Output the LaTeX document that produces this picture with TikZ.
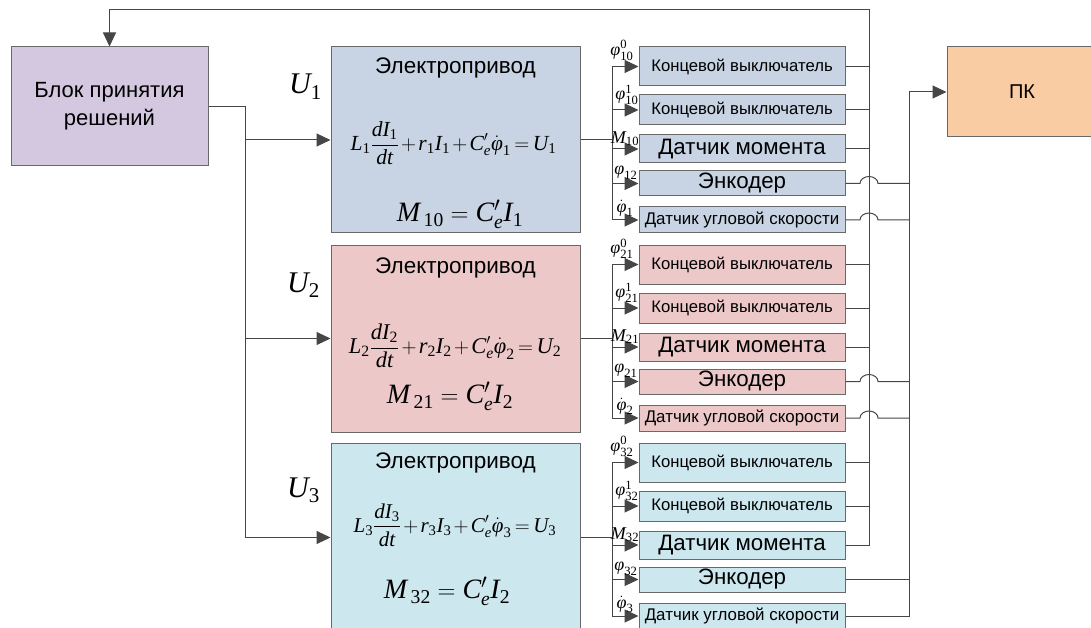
\documentclass[tikz,border=0pt]{standalone}
\usepackage{fontspec}
\usepackage{amsmath}
\setmainfont{Liberation Sans}
\newfontfamily\tnr{Liberation Serif}
\usetikzlibrary{arrows.meta}
\definecolor{blkc}{RGB}{212,200,224}
\definecolor{pkc}{RGB}{250,204,164}
\definecolor{bluec}{RGB}{200,212,228}
\definecolor{pinkc}{RGB}{236,200,201}
\definecolor{cyanc}{RGB}{205,231,238}
\definecolor{bordc}{RGB}{105,105,105}
\definecolor{linec}{RGB}{70,70,70}
\newcommand\tvi[1]{\text{\tnr\itshape #1}}
\newcommand\tvn[1]{\text{\tnr\upshape #1}}
\newcommand\fsz[1]{\fontsize{#1}{#1}\selectfont}
\newcommand\eqdrive[1]{$\medmuskip=2mu\thickmuskip=3mu\tvi{L}_{\tvn{#1}}\dfrac{\tvi{dI}_{\tvn{#1}}}{\tvi{dt}}+\tvi{r}_{\tvn{#1}}\tvi{I}_{\tvn{#1}}+\tvi{C}'_{\tvi{e}}\dot{\tvi{φ}}_{\tvn{#1}}=\tvi{U}_{\tvn{#1}}$}
\newcommand\eqmom[2]{$\tvi{M}_{\,\tvn{#1}}=\tvi{C}'_{\tvi{e}}\tvi{I}_{\tvn{#2}}$}
\newcommand\sgroup[8]{%
  \node[box,fill=#3,minimum width=206pt,minimum height=39pt,font=\fsz{16.7}] (s#11) at (742,{#2+19.5}) {Концевой выключатель};
  \node[box,fill=#3,minimum width=206pt,minimum height=30pt,font=\fsz{16.7}] (s#12) at (742,{#2+63}) {Концевой выключатель};
  \node[box,fill=#3,minimum width=206pt,minimum height=28pt,font=\fsz{22.3}] (s#13) at (742,{#2+102}) {Датчик момента};
  \node[box,fill=#3,minimum width=206pt,minimum height=25pt,font=\fsz{22.3}] (s#14) at (742,{#2+136.5}) {Энкодер};
  \node[box,fill=#3,minimum width=206pt,minimum height=26pt,font=\fsz{16.9}] (s#15) at (742,{#2+173}) {Датчик угловой скорости};
  \coordinate (b#1) at (612,{#2+19.5});
  \draw[conn] (b#1) -- (b#1 |- s#15.west);
  \draw[conn] (d#1.east) -- (b#1 |- d#1.east);
  \foreach \r in {1,...,5} {\draw[arr] (b#1 |- s#1\r.west) -- (s#1\r.west);}
  \node[lab] (l#11) at (622,{#2+19.5-6}) {#4};
  \node[lab] (l#12) at (627,{#2+63-5}) {#5};
  \node[lab] (l#13) at (625,{#2+102-3}) {#6};
  \node[lab] (l#14) at (626,{#2+136.5-4}) {#7};
  \node[lab] (l#15) at (625,{#2+173-3}) {#8};
}
\begin{document}
\begin{tikzpicture}[x=1pt,y=-1pt,
  box/.style={draw=bordc,line width=1pt,inner sep=0pt},
  conn/.style={draw=linec,line width=1pt},
  arr/.style={conn,-{Triangle[length=14pt,width=13pt]}},
  lab/.style={inner sep=0pt,anchor=south,font=\fsz{18}},
  ulab/.style={inner sep=0pt,anchor=base west,font=\fsz{30}}]
\useasboundingbox (0,0) rectangle (1091,628);
\fill[white] (0,0) rectangle (1091,628);
% main blocks
\node[box,fill=blkc,minimum width=197pt,minimum height=119pt,font=\fsz{22},align=center] (blk) at (109.5,106.5) {Блок принятия\\[6pt]решений};
\node[box,fill=pkc,minimum width=150pt,minimum height=90pt,font=\fsz{20}] (pk) at (1022,92) {ПК};
\node[box,fill=bluec,minimum width=249pt,minimum height=186pt] (d1) at (455.5,140) {};
\node[box,fill=pinkc,minimum width=249pt,minimum height=187pt] (d2) at (455.5,338.5) {};
\node[box,fill=cyanc,minimum width=249pt,minimum height=189pt] (d3) at (455.5,537.5) {};
% drive texts
\node[font=\fsz{22.5},inner sep=0pt] (t1) at (455.5,68) {Электропривод};
\node[font=\fsz{21.5},inner sep=0pt] (e1) at (453.5,143) {\eqdrive{1}};
\node[font=\fsz{28},inner sep=0pt] (m1) at (460,214) {\eqmom{10}{1}};
\node[font=\fsz{22.5},inner sep=0pt] (t2) at (455.5,268) {Электропривод};
\node[font=\fsz{22.5},inner sep=0pt] (e2) at (455,346) {\eqdrive{2}};
\node[font=\fsz{28},inner sep=0pt] (m2) at (450,396) {\eqmom{21}{2}};
\node[font=\fsz{22.5},inner sep=0pt] (t3) at (455.5,463) {Электропривод};
\node[font=\fsz{21},inner sep=0pt] (e3) at (455,525) {\eqdrive{3}};
\node[font=\fsz{28},inner sep=0pt] (m3) at (447,591) {\eqmom{32}{2}};
% U labels
\node[ulab] (u1) at (289,94) {$\tvi{U}_{\tvn{1}}$};
\node[ulab] (u2) at (287,292) {$\tvi{U}_{\tvn{2}}$};
\node[ulab] (u3) at (287,497) {$\tvi{U}_{\tvn{3}}$};
% left bus
\coordinate (lb) at (245,0);
\draw[conn] (blk.east) -- (blk.east -| lb) -- (lb |- d3.west);
\foreach \i in {1,2,3} {\draw[arr] (lb |- d\i.west) -- (d\i.west);}
% sensor groups
\sgroup{1}{47}{bluec}{$\tvi{φ}^{\tvn{0}}_{\tvn{10}}$}{$\tvi{φ}^{\tvn{1}}_{\tvn{10}}$}{$\tvi{M}_{\tvn{10}}$}{$\tvi{φ}_{\tvn{12}}$}{$\dot{\tvi{φ}}_{\tvn{1}}$}
\sgroup{2}{245}{pinkc}{$\tvi{φ}^{\tvn{0}}_{\tvn{21}}$}{$\tvi{φ}^{\tvn{1}}_{\tvn{21}}$}{$\tvi{M}_{\tvn{21}}$}{$\tvi{φ}_{\tvn{21}}$}{$\dot{\tvi{φ}}_{\tvn{2}}$}
\sgroup{3}{443}{cyanc}{$\tvi{φ}^{\tvn{0}}_{\tvn{32}}$}{$\tvi{φ}^{\tvn{1}}_{\tvn{32}}$}{$\tvi{M}_{\tvn{32}}$}{$\tvi{φ}_{\tvn{32}}$}{$\dot{\tvi{φ}}_{\tvn{3}}$}
% right collectors
\coordinate (fb) at (869,10);
\coordinate (c2) at (909,0);
\coordinate (hop) at (860,0);
\foreach \g in {1,2} {
  \foreach \r in {1,2,3} {\draw[conn] (s\g\r.east) -- (s\g\r.east -| fb);}
  \foreach \r in {4,5} {\draw[conn] (s\g\r.east) -- (s\g\r.east -| hop) arc[start angle=180,end angle=360,x radius=9,y radius=7] -- (s\g\r.east -| c2);}
}
\foreach \r in {1,2} {\draw[conn] (s3\r.east) -- (s3\r.east -| fb);}
\draw[arr] (s33.east) -| (fb) -| (blk.north);
\draw[conn] (s34.east) -- (s34.east -| c2);
\draw[arr] (s35.east) -- (s35.east -| c2) -- (c2 |- pk.west) -- (pk.west);
\end{tikzpicture}
\end{document}
